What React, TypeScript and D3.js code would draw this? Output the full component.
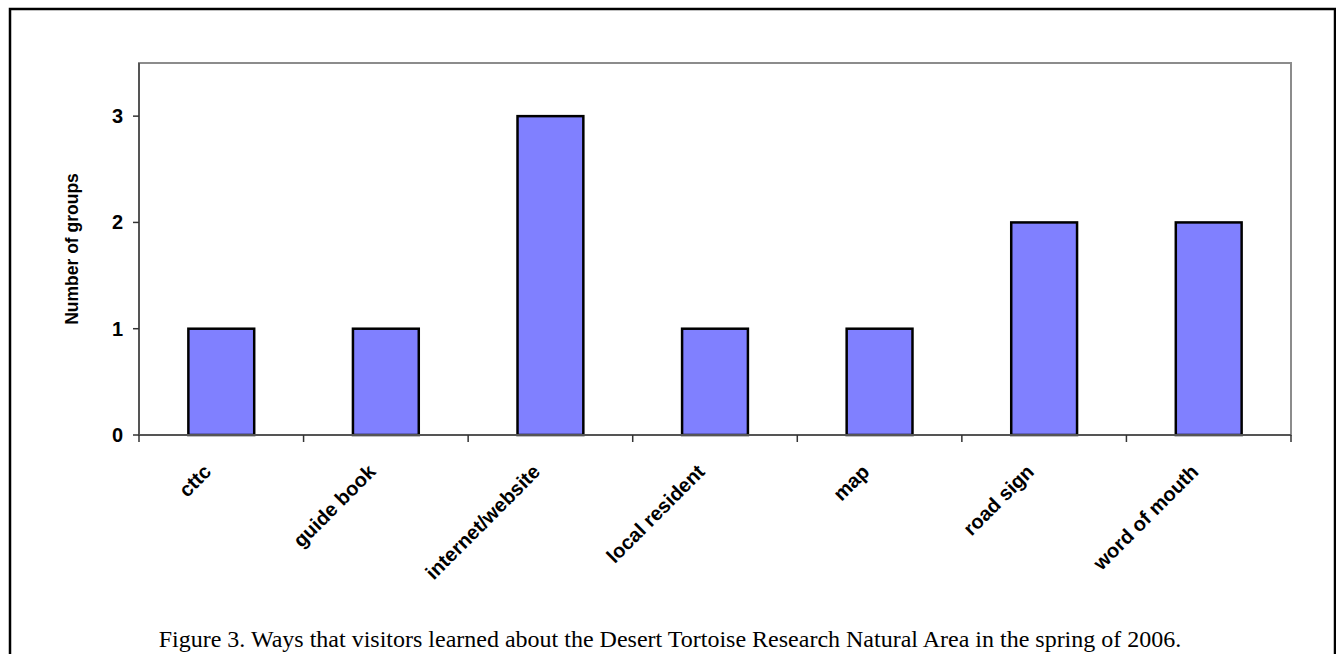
import React from "react";
import * as d3 from "d3";

// Survey responses: how visitor groups heard about the area
const categories: string[] = [
  "cttc",
  "guide book",
  "internet/website",
  "local resident",
  "map",
  "road sign",
  "word of mouth",
];
const groupCounts: number[] = [1, 1, 3, 1, 1, 2, 2];
const yTicks: number[] = [0, 1, 2, 3];

const caption =
  "Figure 3. Ways that visitors learned about the Desert Tortoise Research Natural Area in the spring of 2006.";

const W = 1336;
const H = 654;
const plot = { left: 139, right: 1291, top: 63, bottom: 435 };

export default function App() {
  const x = d3
    .scaleBand<string>()
    .domain(categories)
    .range([plot.left, plot.right])
    .paddingInner(0.6)
    .paddingOuter(0.3);
  const y = d3.scaleLinear().domain([0, 3.5]).range([plot.bottom, plot.top]);
  const step = x.step();
  const boundaries = d3.range(categories.length + 1).map((i) => plot.left + i * step);
  const sans = "'Liberation Sans', Arial, sans-serif";

  return (
    <svg
      width={W}
      height={H}
      style={{ position: "absolute", left: 0, top: 0, background: "#fff" }}
    >
      {/* outer frame */}
      <rect x={10} y={9} width={1325} height={700} fill="none" stroke="#000" strokeWidth={2.5} />

      {/* plot frame */}
      <rect
        x={plot.left}
        y={plot.top}
        width={plot.right - plot.left}
        height={plot.bottom - plot.top}
        fill="#fff"
        stroke="#8c8c8c"
        strokeWidth={2}
      />

      {/* bars */}
      {categories.map((c, i) => (
        <rect
          key={c}
          x={x(c)}
          y={y(groupCounts[i])}
          width={x.bandwidth()}
          height={y(0) - y(groupCounts[i])}
          fill="#8080FF"
          stroke="#000"
          strokeWidth={2.5}
        />
      ))}

      {/* axes */}
      <line x1={plot.left} x2={plot.left} y1={plot.top} y2={plot.bottom} stroke="#555" strokeWidth={2} />
      <line x1={plot.left} x2={plot.right} y1={plot.bottom} y2={plot.bottom} stroke="#555" strokeWidth={2} />

      {/* y ticks */}
      {yTicks.map((t) => (
        <g key={t}>
          <line x1={plot.left - 6} x2={plot.left} y1={y(t)} y2={y(t)} stroke="#333" strokeWidth={1.5} />
          <text
            x={123}
            y={y(t)}
            textAnchor="end"
            dominantBaseline="central"
            fontFamily={sans}
            fontWeight="bold"
            fontSize={20}
          >
            {t}
          </text>
        </g>
      ))}

      {/* x ticks at category boundaries */}
      {boundaries.map((b, i) => (
        <line key={i} x1={b} x2={b} y1={plot.bottom} y2={plot.bottom + 7} stroke="#333" strokeWidth={1.5} />
      ))}

      {/* category labels */}
      {categories.map((c) => {
        const cx = (x(c) as number) + x.bandwidth() / 2;
        return (
          <text
            key={c}
            transform={`translate(${cx - 9},${473}) rotate(-45)`}
            textAnchor="end"
            fontFamily={sans}
            fontWeight="bold"
            fontSize={20}
          >
            {c}
          </text>
        );
      })}

      {/* y axis title */}
      <text
        transform={`translate(78,${(plot.top + plot.bottom) / 2}) rotate(-90)`}
        textAnchor="middle"
        fontFamily={sans}
        fontWeight="bold"
        fontSize={17.5}
      >
        Number of groups
      </text>

      {/* caption */}
      <text
        x={670}
        y={647}
        textAnchor="middle"
        fontFamily="'Liberation Serif', 'Times New Roman', serif"
        fontSize={24}
      >
        {caption}
      </text>
    </svg>
  );
}
